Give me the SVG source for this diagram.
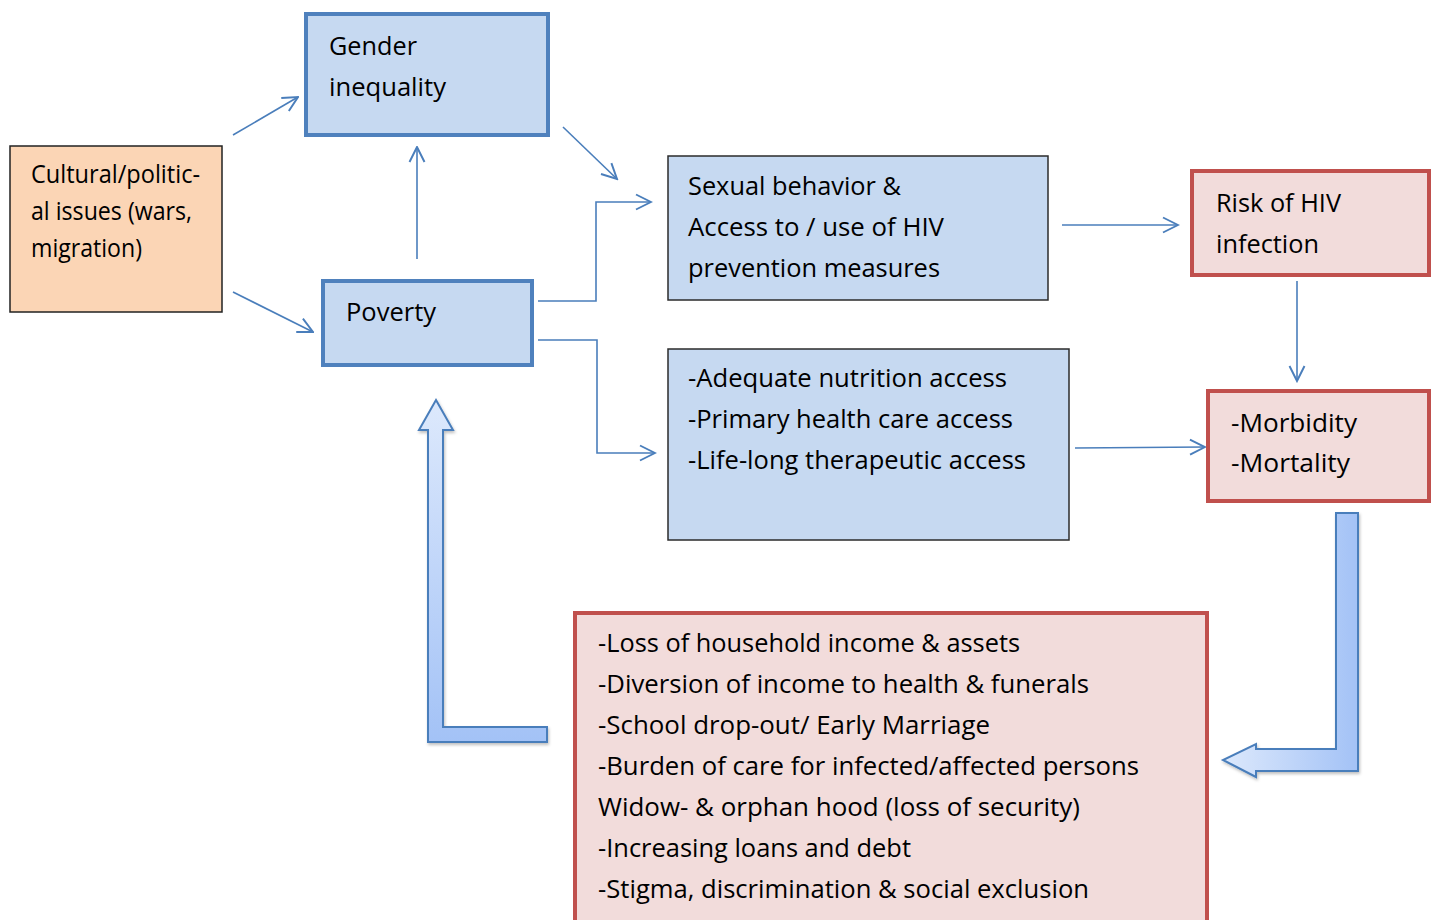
<svg xmlns="http://www.w3.org/2000/svg" width="1432" height="920" viewBox="0 0 1432 920">
<style>
text{font-family:"Open Sans","Noto Sans","Liberation Sans",sans-serif;font-size:25px;fill:#000}
.blue{fill:#c6d9f1;stroke:#4f81bd;stroke-width:4}
.blueThin{fill:#c6d9f1;stroke:#2b2b2b;stroke-width:1.5}
.orange{fill:#fbd5b5;stroke:#222;stroke-width:1.5}
.red{fill:#f2dcdb;stroke:#c0504d;stroke-width:4}
.conn{fill:none;stroke:#4a7ebb;stroke-width:1.6}
.block{stroke:#4a7ebb;stroke-width:2}
</style>
<defs>
<marker id="open" viewBox="0 0 12 12" refX="11" refY="6" markerWidth="18" markerHeight="18" markerUnits="userSpaceOnUse" orient="auto">
<path d="M1,1 L11,6 L1,11" fill="none" stroke="#4a7ebb" stroke-width="1.3"/>
</marker>
<linearGradient id="gUp" x1="0" y1="0" x2="0" y2="1">
<stop offset="0" stop-color="#dde9fc"/><stop offset="1" stop-color="#a3c2f6"/>
</linearGradient>
<linearGradient id="gLeft" x1="0" y1="0" x2="1" y2="0">
<stop offset="0" stop-color="#dde9fc"/><stop offset="1" stop-color="#a3c2f6"/>
</linearGradient>
<filter id="sh" x="-20%" y="-20%" width="140%" height="140%">
<feDropShadow dx="1" dy="2" stdDeviation="1.5" flood-color="#000" flood-opacity="0.25"/>
</filter>
</defs>

<g id="cultural">
<rect class="orange" x="10" y="146" width="212" height="166"/>
<text x="31" y="183" textLength="169" lengthAdjust="spacingAndGlyphs">Cultural/politic-</text>
<text x="31" y="220" textLength="161" lengthAdjust="spacingAndGlyphs">al issues (wars,</text>
<text x="31" y="257" textLength="111" lengthAdjust="spacingAndGlyphs">migration)</text>
</g>

<g id="gender">
<rect class="blue" x="306" y="14" width="242" height="121"/>
<text x="329" y="55" textLength="88" lengthAdjust="spacingAndGlyphs">Gender</text>
<text x="329" y="96" textLength="117" lengthAdjust="spacingAndGlyphs">inequality</text>
</g>

<g id="poverty">
<rect class="blue" x="323" y="281" width="209" height="84"/>
<text x="346" y="321" textLength="90" lengthAdjust="spacingAndGlyphs">Poverty</text>
</g>

<g id="sexual">
<rect class="blueThin" x="668" y="156" width="380" height="144"/>
<text x="688" y="195" textLength="213" lengthAdjust="spacingAndGlyphs">Sexual behavior &amp;</text>
<text x="688" y="236" textLength="256" lengthAdjust="spacingAndGlyphs">Access to / use of HIV</text>
<text x="688" y="277" textLength="252" lengthAdjust="spacingAndGlyphs">prevention measures</text>
</g>

<g id="access">
<rect class="blueThin" x="668" y="349" width="401" height="191"/>
<text x="688" y="387" textLength="319" lengthAdjust="spacingAndGlyphs">-Adequate nutrition access</text>
<text x="688" y="428" textLength="325" lengthAdjust="spacingAndGlyphs">-Primary health care access</text>
<text x="688" y="469" textLength="338" lengthAdjust="spacingAndGlyphs">-Life-long therapeutic access</text>
</g>

<g id="risk">
<rect class="red" x="1192" y="171" width="237" height="104"/>
<text x="1216" y="212" textLength="125" lengthAdjust="spacingAndGlyphs">Risk of HIV</text>
<text x="1216" y="253" textLength="103" lengthAdjust="spacingAndGlyphs">infection</text>
</g>

<g id="morbidity">
<rect class="red" x="1208" y="391" width="221" height="110"/>
<text x="1231" y="432" textLength="126" lengthAdjust="spacingAndGlyphs">-Morbidity</text>
<text x="1231" y="472" textLength="119" lengthAdjust="spacingAndGlyphs">-Mortality</text>
</g>

<g id="consequences">
<rect class="red" x="575" y="613" width="632" height="330"/>
<text x="598" y="652" textLength="422" lengthAdjust="spacingAndGlyphs">-Loss of household income &amp; assets</text>
<text x="598" y="693" textLength="491" lengthAdjust="spacingAndGlyphs">-Diversion of income to health &amp; funerals</text>
<text x="598" y="734" textLength="392" lengthAdjust="spacingAndGlyphs">-School drop-out/ Early Marriage</text>
<text x="598" y="775" textLength="541" lengthAdjust="spacingAndGlyphs">-Burden of care for infected/affected persons</text>
<text x="598" y="816" textLength="482" lengthAdjust="spacingAndGlyphs">Widow- &amp; orphan hood (loss of security)</text>
<text x="598" y="857" textLength="313" lengthAdjust="spacingAndGlyphs">-Increasing loans and debt</text>
<text x="598" y="898" textLength="491" lengthAdjust="spacingAndGlyphs">-Stigma, discrimination &amp; social exclusion</text>
</g>

<g id="connectors">
<path class="conn" d="M233,135 L298,97" marker-end="url(#open)"/>
<path class="conn" d="M233,292 L313,332" marker-end="url(#open)"/>
<path class="conn" d="M417,259 L417,147" marker-end="url(#open)"/>
<path class="conn" d="M563,127 L617,179" marker-end="url(#open)"/>
<path class="conn" d="M538,301 L596,301 L596,202 L651,202" marker-end="url(#open)"/>
<path class="conn" d="M538,340 L597,340 L597,453 L655,453" marker-end="url(#open)"/>
<path class="conn" d="M1062,225 L1178,225" marker-end="url(#open)"/>
<path class="conn" d="M1075,448 L1205,447" marker-end="url(#open)"/>
<path class="conn" d="M1297,281 L1297,381" marker-end="url(#open)"/>
<polygon class="block" fill="url(#gUp)" filter="url(#sh)" points="436,400 453,430 443,430 443,727 547,727 547,742 428,742 428,430 419,430"/>
<polygon class="block" fill="url(#gLeft)" filter="url(#sh)" points="1336,513 1358,513 1358,771 1256,771 1256,777 1223,760 1256,744 1256,749 1336,749"/>
</g>
</svg>
